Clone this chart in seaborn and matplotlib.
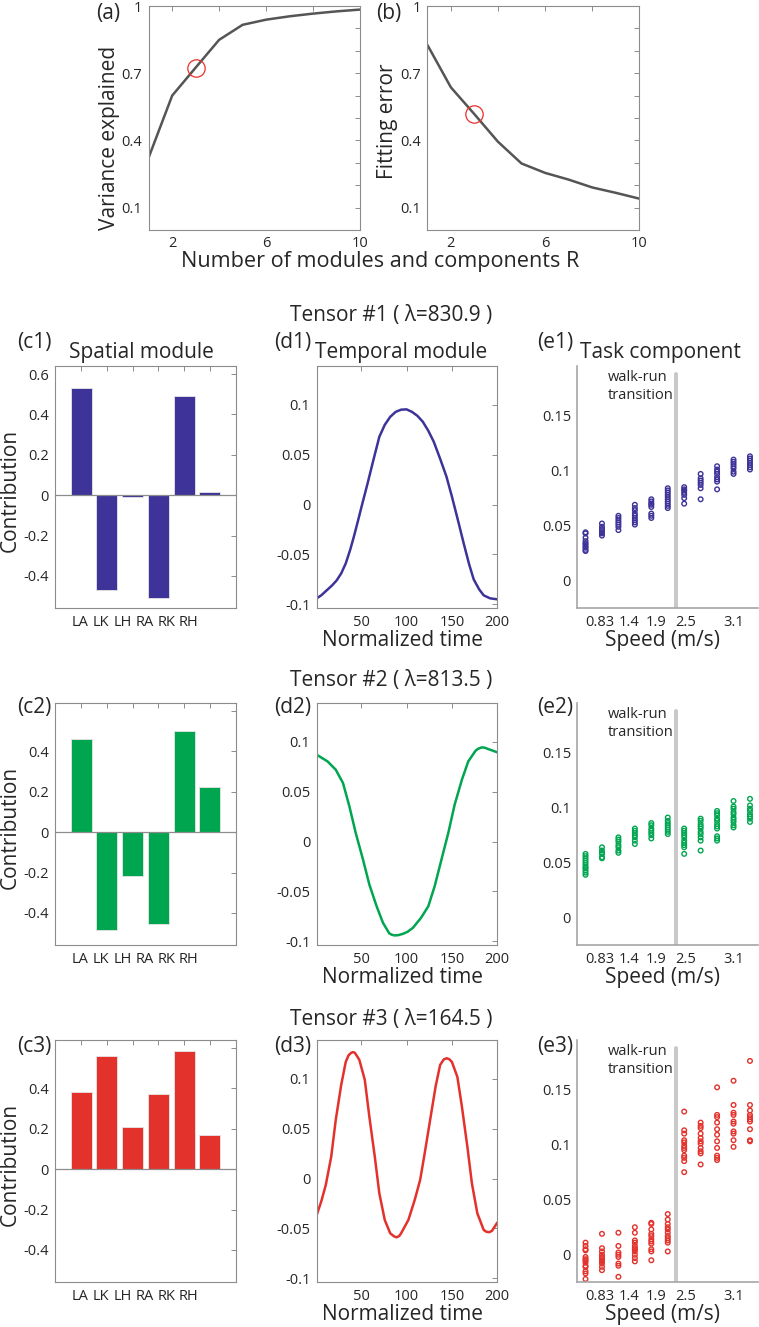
import numpy as np
import pandas as pd
import matplotlib
matplotlib.use('Agg')
import matplotlib.pyplot as plt
import seaborn as sns

# ---------------- data ----------------
R = [1, 2, 3, 4, 5, 6, 7, 8, 9, 10]
var_explained = [0.324, 0.600, 0.725, 0.849, 0.916, 0.939, 0.954, 0.966, 0.976, 0.984]
fit_error = [0.827, 0.637, 0.517, 0.394, 0.297, 0.255, 0.225, 0.190, 0.166, 0.140]
SELECTED_R = 3

tensor_lambda = [830.9, 813.5, 164.5]

muscles = ['LA', 'LK', 'LH', 'RA', 'RK', 'RH']
spatial1 = [0.532, -0.469, -0.010, -0.510, 0.490, 0.016]
spatial2 = [0.464, -0.484, -0.217, -0.456, 0.502, 0.224]
spatial3 = [0.380, 0.562, 0.208, 0.372, 0.585, 0.169]

t1_x = [1, 6, 12, 18, 23, 28, 33, 38, 42, 46, 51, 57, 63, 70, 76, 82, 88, 94, 100, 106,
        112, 118, 124, 130, 137, 144, 150, 157, 163, 169, 174, 180, 185, 192, 200]
t1_y = [-0.094, -0.091, -0.086, -0.081, -0.076, -0.069, -0.059, -0.045, -0.032, -0.018,
        0.000, 0.021, 0.043, 0.068, 0.080, 0.088, 0.093, 0.0952, 0.0955, 0.093, 0.089,
        0.083, 0.074, 0.063, 0.046, 0.028, 0.008, -0.017, -0.039, -0.060, -0.075, -0.085,
        -0.091, -0.094, -0.095]

t2_x = [1, 13, 22, 30, 37, 44, 52, 59, 67, 74, 81, 84, 87, 91, 96, 101, 107, 116, 124, 131,
        138, 146, 153, 161, 168, 176, 179, 183, 186, 190, 195, 200]
t2_y = [0.0871, 0.0804, 0.0721, 0.0587, 0.0354, 0.0087, -0.018, -0.043, -0.0648, -0.0814,
        -0.0921, -0.0935, -0.0941, -0.0938, -0.0925, -0.0905, -0.0865, -0.0764, -0.0648,
        -0.0447, -0.0197, 0.0087, 0.037, 0.0621, 0.0804, 0.0911, 0.0932, 0.0945, 0.0942,
        0.0928, 0.0912, 0.0895]

t3_x = [1, 6, 11, 17, 22, 28, 33, 36, 39, 41, 43, 46, 48, 54, 59, 65, 70, 76, 82, 86, 89,
        92, 94, 102, 109, 115, 120, 126, 132, 137, 141, 144, 147, 150, 156, 161, 167, 172,
        178, 185, 188, 191, 194, 196, 200]
t3_y = [-0.0365, -0.023, -0.0064, 0.022, 0.0589, 0.094, 0.117, 0.1235, 0.1262, 0.1268,
        0.1262, 0.122, 0.119, 0.099, 0.0622, 0.022, -0.0147, -0.0415, -0.0548, -0.0578,
        -0.0589, -0.0575, -0.0548, -0.0415, -0.0214, -0.0013, 0.0254, 0.0589, 0.0923,
        0.114, 0.1195, 0.1207, 0.1198, 0.117, 0.102, 0.0722, 0.0321, -0.0047, -0.0348,
        -0.0515, -0.0533, -0.0538, -0.0525, -0.0498, -0.0441]

# task component: one list of values per speed condition (11 conditions)
task1 = [
    [0.044, 0.043, 0.039, 0.036, 0.034, 0.033, 0.031, 0.030, 0.028, 0.027],
    [0.052, 0.049, 0.047, 0.046, 0.044, 0.043, 0.041],
    [0.059, 0.057, 0.055, 0.053, 0.051, 0.049, 0.046],
    [0.069, 0.066, 0.064, 0.061, 0.059, 0.057, 0.055, 0.053, 0.051],
    [0.074, 0.072, 0.070, 0.069, 0.067, 0.061, 0.059, 0.057],
    [0.084, 0.082, 0.080, 0.078, 0.076, 0.074, 0.072, 0.070, 0.068, 0.066],
    [0.085, 0.083, 0.082, 0.080, 0.078, 0.075, 0.070],
    [0.097, 0.093, 0.091, 0.089, 0.087, 0.084, 0.074],
    [0.104, 0.101, 0.099, 0.097, 0.094, 0.092, 0.090, 0.083],
    [0.110, 0.108, 0.106, 0.104, 0.102, 0.099, 0.097],
    [0.113, 0.111, 0.109, 0.107, 0.105, 0.103, 0.101],
]
task2 = [
    [0.058, 0.056, 0.054, 0.052, 0.050, 0.048, 0.046, 0.045, 0.043, 0.041, 0.039],
    [0.064, 0.061, 0.059, 0.058, 0.055, 0.054],
    [0.073, 0.071, 0.069, 0.066, 0.064, 0.061, 0.059],
    [0.081, 0.079, 0.077, 0.075, 0.073, 0.070, 0.067],
    [0.086, 0.084, 0.081, 0.079, 0.077, 0.075, 0.072],
    [0.091, 0.088, 0.086, 0.084, 0.082, 0.080, 0.078, 0.076],
    [0.081, 0.079, 0.077, 0.075, 0.073, 0.070, 0.068, 0.066, 0.064, 0.058],
    [0.090, 0.088, 0.085, 0.083, 0.081, 0.078, 0.076, 0.073, 0.070, 0.061],
    [0.097, 0.095, 0.093, 0.090, 0.088, 0.085, 0.083, 0.081, 0.074, 0.072, 0.070],
    [0.106, 0.101, 0.099, 0.096, 0.094, 0.091, 0.089, 0.087, 0.084, 0.082],
    [0.108, 0.102, 0.099, 0.097, 0.094, 0.092, 0.090, 0.087],
]
task3 = [
    [0.011, 0.008, 0.005, 0.004, -0.002, -0.004, -0.005, -0.007, -0.010, -0.011, -0.015, -0.017, -0.022],
    [0.019, 0.006, 0.003, 0.000, -0.002, -0.003, -0.005, -0.006, -0.008, -0.011, -0.014],
    [0.020, 0.008, 0.002, 0.000, -0.002, -0.008, -0.010, -0.020],
    [0.025, 0.020, 0.013, 0.011, 0.008, 0.006, 0.005, 0.003, 0.000, -0.003, -0.006],
    [0.029, 0.028, 0.023, 0.019, 0.017, 0.014, 0.012, 0.010, 0.005, 0.003, -0.005],
    [0.037, 0.032, 0.028, 0.025, 0.023, 0.020, 0.017, 0.015, 0.013, 0.011, 0.003],
    [0.130, 0.113, 0.110, 0.104, 0.102, 0.099, 0.097, 0.095, 0.090, 0.088, 0.085, 0.075],
    [0.120, 0.117, 0.115, 0.110, 0.106, 0.103, 0.101, 0.097, 0.094, 0.092, 0.082],
    [0.152, 0.127, 0.125, 0.120, 0.114, 0.109, 0.103, 0.097, 0.090, 0.088, 0.086],
    [0.158, 0.136, 0.129, 0.127, 0.121, 0.119, 0.112, 0.110, 0.104, 0.098],
    [0.176, 0.136, 0.131, 0.127, 0.125, 0.123, 0.121, 0.114, 0.104, 0.103],
]

speed_labels = ['0.83', '1.4', '1.9', '2.5', '3.1']
speed_label_pos = [1.88, 3.63, 5.3, 7.1, 10.03]
speed_ticks = [2, 4, 6, 8, 10]
TRANSITION_POS = 6.5

# ---------------- styling ----------------
W, H = 759, 1327
COLORS = ['#3d3398', '#00a64f', '#e3312b']
LINE_GRAY = '#555555'
AX_GRAY = '#8c8c8c'
TXT = '#262626'
TICK_FS = 10.5
BIG_FS = 15

sns.set_theme(style='white')
plt.rcParams['font.family'] = ['Open Sans', 'DejaVu Sans']
plt.rcParams['text.color'] = TXT


def rect(l, t, r, b):
    return [l / W, 1 - b / H, (r - l) / W, (b - t) / H]


def ftext(fig, x, y, s, size=BIG_FS, **kw):
    fig.text(x / W, 1 - y / H, s, ha=kw.pop('ha', 'center'), va=kw.pop('va', 'center'),
             fontsize=size, color=TXT, **kw)


def box_axes(ax):
    for s in ax.spines.values():
        s.set_visible(True)
        s.set_color(AX_GRAY)
        s.set_linewidth(0.8)
    ax.tick_params(which='both', direction='in', top=True, right=True, length=3.5,
                   width=0.7, color=AX_GRAY, labelcolor=TXT, labelsize=TICK_FS, pad=4.5)


fig = plt.figure(figsize=(W / 100, H / 100), dpi=100)

# ---------------- (a) and (b) ----------------
top_panels = [(148.7, 360.0, var_explained, 'Variance explained', 109, 138, '(a)', 108),
              (427.3, 639.3, fit_error, 'Fitting error', 388, 121, '(b)', 389)]
for l, r, vals, ylab, ylx, yly, tag, tagx in top_panels:
    ax = fig.add_axes(rect(l, 6, r, 230))
    sns.lineplot(x=R, y=vals, color=LINE_GRAY, linewidth=1.8, ax=ax)
    ax.plot(SELECTED_R, vals[R.index(SELECTED_R)], 'o', mfc='none', mec='#e8302a',
            ms=12.5, mew=0.9)
    ax.set_xlim(1, 10)
    ax.set_ylim(0, 1)
    ax.set_xticks([2, 4, 6, 8, 10], labels=['2', '', '6', '', '10'])
    yt = np.round(np.arange(0.1, 1.01, 0.1), 1)
    ax.set_yticks(yt, labels=['0.1', '', '', '0.4', '', '', '0.7', '', '', '1'])
    box_axes(ax)
    ax.set_xlabel('')
    ax.set_ylabel('')
    ftext(fig, ylx, yly, ylab, rotation=90)
    ftext(fig, tagx, 14, tag)
ftext(fig, 380, 262, 'Number of modules and components R', size=15.6)

# ---------------- rows c/d/e ----------------
spatial = [spatial1, spatial2, spatial3]
temporal = [(t1_x, t1_y), (t2_x, t2_y), (t3_x, t3_y)]
tasks = [task1, task2, task3]
row_tops = [366, 703, 1040]
title_y = [315, 680.7, 1020]
tag_y = [342.7, 707.8, 1046.5]
ROW_H = 242.3

for k in range(3):
    top = row_tops[k]
    bot = top + ROW_H
    col = COLORS[k]

    # spatial module
    ax = fig.add_axes(rect(55.3, top, 235.7, bot))
    pos = np.arange(1, len(muscles) + 1)
    sns.barplot(x=pos, y=spatial[k], native_scale=True, width=0.82, color=col,
                saturation=1, edgecolor='#e6e6e6', linewidth=0.6, errorbar=None, ax=ax)
    ax.axhline(0, color='#8c8c8c', linewidth=0.9, zorder=3)
    ax.set_xlim(0, 7)
    ax.set_ylim(-0.56, 0.64)
    ylabels = ['-0.4', '-0.2', '0', '0.2', '0.4', '0.6' if k == 0 else '']
    ax.set_yticks([-0.4, -0.2, 0, 0.2, 0.4, 0.6], labels=ylabels)
    ax.set_xticks([0.97, 1.78, 2.62, 3.47, 4.31, 5.16], labels=muscles)
    ax.set_xticks(pos, minor=True)
    box_axes(ax)
    ax.tick_params(axis='x', which='major', length=0, pad=4.5)
    ax.set_xlabel('')
    ax.set_ylabel('')
    ftext(fig, 10, top + 124, 'Contribution', rotation=90)
    ftext(fig, 34.5, tag_y[k], f'(c{k + 1})')

    # temporal module
    ax = fig.add_axes(rect(316.7, top, 497.3, bot))
    tx, ty = temporal[k]
    sns.lineplot(x=tx, y=ty, color=col, linewidth=1.8, solid_joinstyle='round', ax=ax)
    ax.set_xlim(1, 200)
    ax.set_ylim(-0.104, 0.139)
    ax.set_xticks([50, 100, 150, 200])
    ax.set_yticks([-0.1, -0.05, 0, 0.05, 0.1], labels=['-0.1', '-0.05', '0', '0.05', '0.1'])
    box_axes(ax)
    ax.set_xlabel('')
    ax.set_ylabel('')
    ftext(fig, 403, bot + 32, 'Normalized time')
    ftext(fig, 292.5, tag_y[k], f'(d{k + 1})')

    # task component
    ax = fig.add_axes(rect(577.3, top, 758.2, bot))
    grp, val = [], []
    for g, vals in enumerate(tasks[k], start=1):
        grp += [g] * len(vals)
        val += vals
    df = pd.DataFrame({'speed': grp, 'value': val})
    sns.scatterplot(data=df, x='speed', y='value', marker='o', s=11, color=col,
                    linewidth=1.0, ax=ax)
    coll = ax.collections[-1]
    coll.set_facecolor('none')
    coll.set_edgecolor(col)
    ax.set_xlim(0.5, 11.5)
    ax.set_ylim(-0.025, 0.195)
    ax.axvline(TRANSITION_POS, ymax=(0.1877 + 0.025) / 0.22, color='#c8c8c8',
               linewidth=2.8, zorder=1)
    ax.text(2.37, 0.1915, 'walk-run\ntransition', ha='left', va='top', fontsize=TICK_FS,
            color=TXT, linespacing=1.25)
    ax.set_yticks([0, 0.05, 0.1, 0.15], labels=['0', '0.05', '0.1', '0.15'])
    ax.set_xticks(speed_label_pos, labels=speed_labels)
    ax.set_xticks(speed_ticks, minor=True)
    for side in ['top', 'right']:
        ax.spines[side].set_visible(False)
    for side in ['left', 'bottom']:
        ax.spines[side].set_visible(True)
        ax.spines[side].set_color('#a6a6a6')
        ax.spines[side].set_linewidth(1.2)
    ax.tick_params(which='both', direction='in', top=False, right=False, length=3.5,
                   width=0.7, color=AX_GRAY, labelcolor=TXT, labelsize=TICK_FS, pad=4.5)
    ax.tick_params(axis='x', which='major', length=0)
    ax.set_xlabel('')
    ax.set_ylabel('')
    ftext(fig, 662.5, bot + 32, 'Speed (m/s)')
    ftext(fig, 555, tag_y[k], f'(e{k + 1})')

    ftext(fig, 391, title_y[k], f'Tensor #{k + 1} ( λ={tensor_lambda[k]} )')

ftext(fig, 141.7, 352.3, 'Spatial module')
ftext(fig, 401, 352.3, 'Temporal module')
ftext(fig, 660, 352.3, 'Task component')

fig.savefig('out.png', dpi=100)
